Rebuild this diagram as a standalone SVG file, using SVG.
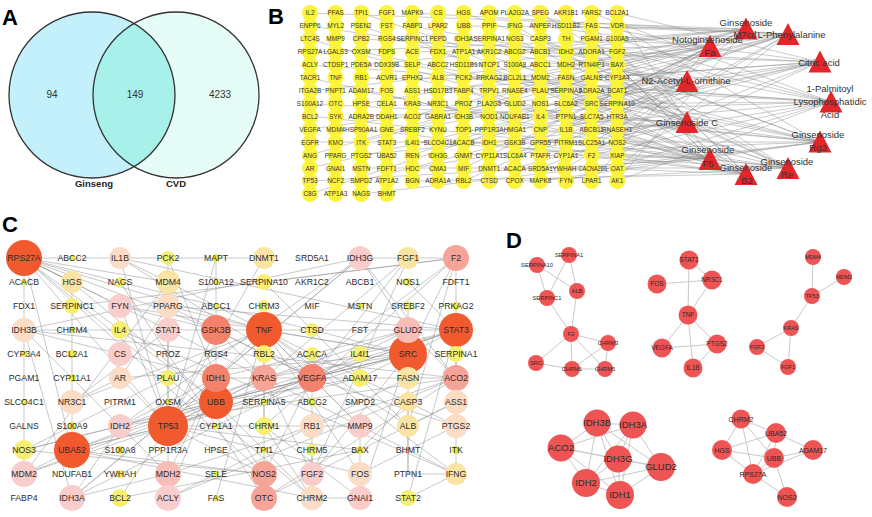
<svg xmlns="http://www.w3.org/2000/svg" xmlns:xlink="http://www.w3.org/1999/xlink" width="872" height="517" viewBox="0 0 872 517">
<style>
text{font-family:"Liberation Sans",Arial,Helvetica,sans-serif}
.pl{font-size:22px;font-weight:bold;fill:#000}
.vn{font-size:10px;fill:#333;text-anchor:middle}
.vl{font-size:9.5px;font-weight:bold;fill:#222;text-anchor:middle}
.bn circle{fill:#fbf43a}
.bn text{font-size:6.4px;fill:#333;text-anchor:middle}
.tl{font-size:9.5px;fill:#333;text-anchor:middle}
.cn text{font-size:8.7px;fill:#2b2b2b;text-anchor:middle}
.o circle{fill:#f15a2f}
.s1 circle{fill:#f3826c}
.s2 circle{fill:#f6a398}
.pk circle{fill:#f9cdcc}
.pk2 circle{fill:#f8bdb7}
.pc circle{fill:#fbdcc4}
.ly circle{fill:#fae4a4}
.y circle{fill:#f7ef72}
.t circle{fill:#efe84c}
.dn circle{fill:#ef5454}
.dn text{fill:#2b2b2b;text-anchor:middle}
.dA text{font-size:5.8px}
.dB text{font-size:6.5px}
.dC text{font-size:5.5px}
.dD text{font-size:9.5px}
.dE text{font-size:7px}
#b-edges{stroke:#8a8a8a;stroke-width:0.6;fill:none;opacity:0.75}
#c-edges{stroke:#8c8c8c;stroke-width:0.6;fill:none;opacity:0.8}
#d-edges{stroke:#c9c9c9;stroke-width:1;fill:none}
</style>
<defs>
<path id="tri" d="M0 -11L11.5 11L-11.5 11Z" fill="#e4262b"/>
</defs>
<rect width="872" height="517" fill="#fff"/>

<text class="pl" x="2" y="25">A</text>
<text class="pl" x="268" y="24">B</text>
<text class="pl" x="2" y="232">C</text>
<text class="pl" x="506" y="248">D</text>

<g id="venn">
<circle cx="92" cy="95" r="83" fill="#c4f0fb"/>
<circle cx="176" cy="95" r="83" fill="#e6fcf6"/>
<path d="M134 23.4A83 83 0 0 0 134 166.6A83 83 0 0 0 134 23.4Z" fill="#a8f0ea"/>
<circle cx="92" cy="95" r="83" fill="none" stroke="#333" stroke-width="1.3"/>
<circle cx="176" cy="95" r="83" fill="none" stroke="#333" stroke-width="1.3"/>
<text class="vn" x="52" y="97.5">94</text>
<text class="vn" x="135" y="97.5">149</text>
<text class="vn" x="220" y="97.5">4233</text>
<text class="vl" x="94" y="186.5">Ginseng</text>
<text class="vl" x="176" y="186.5">CVD</text>
</g>

<g id="connectors">
<path id="b-edges" d="M310 13L746 29M310 26L687 81M310 39L710 159M310 52L788 34M310 65L831 102M310 78L746 174M310 91L710 46M310 104L687 122M310 116L788 168M310 129L820 62M310 142L820 142M310 155L746 29M310 168L687 81M310 181L710 159M310 194L788 34
M361 13L687 122M361 26L788 168M361 39L820 62M361 52L820 142M361 65L746 29M361 78L687 81M361 91L710 159M361 104L788 34M361 116L831 102M361 129L746 174M361 142L710 46M361 155L687 122M361 168L788 168M361 181L820 62M361 194L820 142
M412 13L788 34M412 26L831 102M412 39L746 174M412 52L710 46M412 65L687 122M412 78L788 168M412 91L820 62M412 104L820 142M412 116L746 29M412 129L687 81M412 142L710 159M412 155L788 34M412 168L831 102M412 181L746 174
M464 13L820 142M464 26L746 29M464 39L687 81M464 52L710 159M464 65L788 34M464 78L831 102M464 91L746 174M464 104L710 46M464 116L687 122M464 129L788 168M464 142L820 62M464 155L820 142M464 168L746 29M464 181L687 81
M515 13L710 46M515 26L687 122M515 39L788 168M515 52L820 62M515 65L820 142M515 78L746 29M515 91L687 81M515 104L710 159M515 116L788 34M515 129L831 102M515 142L746 174M515 155L710 46M515 168L687 122M515 181L788 168
M540 13L788 168M540 26L820 62M540 39L820 142M540 52L746 29M540 65L687 81M540 78L710 159M540 91L788 34M540 104L831 102M540 116L746 174M540 129L710 46M540 142L687 122M540 155L788 168M540 168L820 62M540 181L820 142
M566 13L710 159M566 26L788 34M566 39L831 102M566 52L746 174M566 65L710 46M566 78L687 122M566 91L788 168M566 104L820 62M566 116L820 142M566 129L746 29M566 142L687 81M566 155L710 159M566 168L788 34M566 181L831 102
M592 13L831 102M592 26L746 174M592 39L710 46M592 52L687 122M592 65L788 168M592 78L820 62M592 91L820 142M592 104L746 29M592 116L687 81M592 129L710 159M592 142L788 34M592 155L831 102M592 168L746 174M592 181L710 46
M617 13L820 62M617 26L820 142M617 39L746 29M617 52L687 81M617 65L710 159M617 78L788 34M617 91L831 102M617 104L746 174M617 116L710 46M617 129L687 122M617 142L788 168M617 155L820 62M617 168L820 142M617 181L746 29
M617 13L710 159M617 26L788 34M617 39L831 102M617 52L746 174M617 65L710 46M617 78L687 122M617 91L788 168M617 104L820 62M617 116L820 142M617 129L746 29M617 142L687 81M617 155L710 159M617 168L788 34M617 181L831 102"/>
<path id="c-edges" d="M24 258L264 258M360 258L456 258M24 258L168 282M24 258L216 330M24 258L264 330M24 258L216 402M24 258L168 426M24 258L72 450M24 258L24 474M24 258L72 282M24 258L168 330M24 258L312 498M24 258L264 474M24 258L408 354M24 258L120 306
M72 282L216 402M72 282L72 450M120 258L264 330M120 258L456 330M120 258L168 426M120 258L312 378M168 258L216 378M168 258L168 474M216 258L168 426M216 258L216 330M264 258L168 426
M360 258L24 330M360 258L216 378M360 258L408 330M360 258L120 426M360 258L456 378M360 258L72 498M408 258L312 378M408 258L264 378M408 258L312 474
M456 258L408 354M456 258L408 426M456 258L264 402M456 258L456 354M456 258L264 426M456 258L264 282M456 258L72 306M168 282L24 474M168 282L168 426M264 282L408 426M408 282L456 330
M120 306L408 354M120 306L168 426M120 306L216 330M168 306L264 330M168 306L456 330M168 306L312 378M168 306L120 378M264 306L264 426M408 306L408 378
M24 330L456 330M24 330L216 378M24 330L120 426M24 330L72 498M24 330L456 378M120 330L456 474M168 330L72 402M168 330L456 474
M216 330L168 426M216 330L216 402M216 330L312 378M216 330L264 378M264 330L168 426M264 330L312 378M264 330L456 426M264 330L408 426M264 330L264 474M264 330L360 474M264 330L360 426M264 330L72 402M264 330L408 354M264 330L456 474
M456 330L408 354M456 330L168 426M456 330L312 378M456 330L264 378M456 330L456 426M456 330L216 402M456 330L408 498M456 330L456 474
M408 354L168 426M408 354L312 378M408 354L264 378M408 354L216 402M408 354L408 474M408 354L312 474M408 354L360 378M408 354L24 450
M408 330L216 378M408 330L456 378M408 330L120 426M408 330L72 498M216 378L456 378M216 378L120 426M216 378L72 498M216 378L168 474M216 378L168 498
M312 378L168 426M312 378L312 474M312 378L264 474M312 378L24 450M312 378L360 426M312 378L456 426M264 378L168 426M264 378L312 474M264 378L216 402M264 378L72 450
M456 378L168 474M456 378L120 426M456 378L264 498M456 378L456 402M216 402L72 450M216 402L168 426M216 402L264 474M216 402L312 498M216 402L360 378M216 402L24 474
M168 426L72 450M168 426L24 474M168 426L360 450M168 426L264 474M168 426L360 474M168 426L360 426M72 450L24 474M72 450L264 474M72 450L312 498M72 450L360 378
M24 450L264 474M24 450L264 330M120 426L168 474M120 426L72 498M168 474L72 498M168 474L168 498M264 498L456 402M264 498L120 282M360 426L360 474M456 426L360 474
M408 402L360 450M408 402L408 474M408 474L456 474M408 498L456 474M312 498L264 426M312 498L312 450M360 498L312 498M360 498L264 426M360 498L408 354
M120 498L168 426M120 498L360 450M216 498L264 330M168 498L408 378M168 498L456 378M120 378L168 426M120 378L72 402M120 378L408 354M456 402L408 426"/>
<path id="d-edges" d="M537 265L547 298M537 265L577 291M569 255L547 298M569 255L577 291M547 298L571 334M577 291L571 334M571 334L536 363M571 334L572 369M571 334L608 343M571 334L605 369M536 363L572 369M572 369L605 369M572 369L608 343M608 343L605 369
M689 260L712 280M689 260L688 315M657 284L712 280M712 280L688 315M688 315L662 348M688 315L717 344M688 315L693 368M662 348L717 344M717 344L693 368
M813 257L812 296M844 277L812 296M812 296L791 328M791 328L757 347M791 328L788 367M757 347L788 367
M597 423L633 425M597 423L561 448M597 423L618 459M597 423L661 467M597 423L586 483M597 423L620 495M633 425L561 448M633 425L618 459M633 425L661 467M633 425L586 483M633 425L620 495M561 448L618 459M561 448L661 467M561 448L586 483M561 448L620 495M618 459L661 467M618 459L586 483M618 459L620 495M661 467L586 483M661 467L620 495M586 483L620 495
M741 419L776 433M741 419L722 450M741 419L774 458M741 419L753 474M776 433L722 450M776 433L774 458M776 433L813 450M776 433L753 474M722 450L774 458M722 450L753 474M774 458L813 450M774 458L753 474M774 458L787 497M753 474L787 497M753 474L813 450"/>
</g>

<g id="b-targets" class="bn">
<g id="b-IL2" transform="translate(310 13)"><circle r="8"/><text y="2.3">IL2</text></g>
<g id="b-PFAS" transform="translate(335.6 13)"><circle r="8"/><text y="2.3">PFAS</text></g>
<g id="b-TPI1" transform="translate(361.2 13)"><circle r="8"/><text y="2.3">TPI1</text></g>
<g id="b-FGF1" transform="translate(386.8 13)"><circle r="8"/><text y="2.3">FGF1</text></g>
<g id="b-MAPK9" transform="translate(412.4 13)"><circle r="8"/><text y="2.3">MAPK9</text></g>
<g id="b-CS" transform="translate(438 13)"><circle r="8"/><text y="2.3">CS</text></g>
<g id="b-HGS" transform="translate(463.6 13)"><circle r="8"/><text y="2.3">HGS</text></g>
<g id="b-APOM" transform="translate(489.2 13)"><circle r="8"/><text y="2.3">APOM</text></g>
<g id="b-PLA2G2A" transform="translate(514.8 13)"><circle r="8"/><text y="2.3">PLA2G2A</text></g>
<g id="b-SPEG" transform="translate(540.4 13)"><circle r="8"/><text y="2.3">SPEG</text></g>
<g id="b-AKR1B1" transform="translate(566 13)"><circle r="8"/><text y="2.3">AKR1B1</text></g>
<g id="b-FARS2" transform="translate(591.6 13)"><circle r="8"/><text y="2.3">FARS2</text></g>
<g id="b-BCL2A1" transform="translate(617.2 13)"><circle r="8"/><text y="2.3">BCL2A1</text></g>
<g id="b-ENPP6" transform="translate(310 25.9)"><circle r="8"/><text y="2.3">ENPP6</text></g>
<g id="b-MYL2" transform="translate(335.6 25.9)"><circle r="8"/><text y="2.3">MYL2</text></g>
<g id="b-PSEN2" transform="translate(361.2 25.9)"><circle r="8"/><text y="2.3">PSEN2</text></g>
<g id="b-FST" transform="translate(386.8 25.9)"><circle r="8"/><text y="2.3">FST</text></g>
<g id="b-FABP3" transform="translate(412.4 25.9)"><circle r="8"/><text y="2.3">FABP3</text></g>
<g id="b-LPAR2" transform="translate(438 25.9)"><circle r="8"/><text y="2.3">LPAR2</text></g>
<g id="b-UBB" transform="translate(463.6 25.9)"><circle r="8"/><text y="2.3">UBB</text></g>
<g id="b-PPIF" transform="translate(489.2 25.9)"><circle r="8"/><text y="2.3">PPIF</text></g>
<g id="b-IFNG" transform="translate(514.8 25.9)"><circle r="8"/><text y="2.3">IFNG</text></g>
<g id="b-ANPEP" transform="translate(540.4 25.9)"><circle r="8"/><text y="2.3">ANPEP</text></g>
<g id="b-HSD11B2" transform="translate(566 25.9)"><circle r="8"/><text y="2.3">HSD11B2</text></g>
<g id="b-FAS" transform="translate(591.6 25.9)"><circle r="8"/><text y="2.3">FAS</text></g>
<g id="b-VDR" transform="translate(617.2 25.9)"><circle r="8"/><text y="2.3">VDR</text></g>
<g id="b-LTC4S" transform="translate(310 38.9)"><circle r="8"/><text y="2.3">LTC4S</text></g>
<g id="b-MMP9" transform="translate(335.6 38.9)"><circle r="8"/><text y="2.3">MMP9</text></g>
<g id="b-CPB2" transform="translate(361.2 38.9)"><circle r="8"/><text y="2.3">CPB2</text></g>
<g id="b-RGS4" transform="translate(386.8 38.9)"><circle r="8"/><text y="2.3">RGS4</text></g>
<g id="b-SERPINC1" transform="translate(412.4 38.9)"><circle r="8"/><text y="2.3">SERPINC1</text></g>
<g id="b-PEPD" transform="translate(438 38.9)"><circle r="8"/><text y="2.3">PEPD</text></g>
<g id="b-IDH3A" transform="translate(463.6 38.9)"><circle r="8"/><text y="2.3">IDH3A</text></g>
<g id="b-SERPINA1" transform="translate(489.2 38.9)"><circle r="8"/><text y="2.3">SERPINA1</text></g>
<g id="b-NOS3" transform="translate(514.8 38.9)"><circle r="8"/><text y="2.3">NOS3</text></g>
<g id="b-CASP3" transform="translate(540.4 38.9)"><circle r="8"/><text y="2.3">CASP3</text></g>
<g id="b-TH" transform="translate(566 38.9)"><circle r="8"/><text y="2.3">TH</text></g>
<g id="b-PGAM1" transform="translate(591.6 38.9)"><circle r="8"/><text y="2.3">PGAM1</text></g>
<g id="b-S100A9" transform="translate(617.2 38.9)"><circle r="8"/><text y="2.3">S100A9</text></g>
<g id="b-RPS27A" transform="translate(310 51.8)"><circle r="8"/><text y="2.3">RPS27A</text></g>
<g id="b-LGALS3" transform="translate(335.6 51.8)"><circle r="8"/><text y="2.3">LGALS3</text></g>
<g id="b-OXSM" transform="translate(361.2 51.8)"><circle r="8"/><text y="2.3">OXSM</text></g>
<g id="b-FDPS" transform="translate(386.8 51.8)"><circle r="8"/><text y="2.3">FDPS</text></g>
<g id="b-ACE" transform="translate(412.4 51.8)"><circle r="8"/><text y="2.3">ACE</text></g>
<g id="b-FDX1" transform="translate(438 51.8)"><circle r="8"/><text y="2.3">FDX1</text></g>
<g id="b-ATP1A1" transform="translate(463.6 51.8)"><circle r="8"/><text y="2.3">ATP1A1</text></g>
<g id="b-AKR1C2" transform="translate(489.2 51.8)"><circle r="8"/><text y="2.3">AKR1C2</text></g>
<g id="b-ABCG2" transform="translate(514.8 51.8)"><circle r="8"/><text y="2.3">ABCG2</text></g>
<g id="b-ABCB1" transform="translate(540.4 51.8)"><circle r="8"/><text y="2.3">ABCB1</text></g>
<g id="b-IDH2" transform="translate(566 51.8)"><circle r="8"/><text y="2.3">IDH2</text></g>
<g id="b-ADORA1" transform="translate(591.6 51.8)"><circle r="8"/><text y="2.3">ADORA1</text></g>
<g id="b-FGF2" transform="translate(617.2 51.8)"><circle r="8"/><text y="2.3">FGF2</text></g>
<g id="b-ACLY" transform="translate(310 64.7)"><circle r="8"/><text y="2.3">ACLY</text></g>
<g id="b-CTDSP1" transform="translate(335.6 64.7)"><circle r="8"/><text y="2.3">CTDSP1</text></g>
<g id="b-PDE5A" transform="translate(361.2 64.7)"><circle r="8"/><text y="2.3">PDE5A</text></g>
<g id="b-DDX39B" transform="translate(386.8 64.7)"><circle r="8"/><text y="2.3">DDX39B</text></g>
<g id="b-SELP" transform="translate(412.4 64.7)"><circle r="8"/><text y="2.3">SELP</text></g>
<g id="b-ABCC2" transform="translate(438 64.7)"><circle r="8"/><text y="2.3">ABCC2</text></g>
<g id="b-HSD11B1" transform="translate(463.6 64.7)"><circle r="8"/><text y="2.3">HSD11B1</text></g>
<g id="b-NTCP1" transform="translate(489.2 64.7)"><circle r="8"/><text y="2.3">NTCP1</text></g>
<g id="b-S100A8" transform="translate(514.8 64.7)"><circle r="8"/><text y="2.3">S100A8</text></g>
<g id="b-ABCC1" transform="translate(540.4 64.7)"><circle r="8"/><text y="2.3">ABCC1</text></g>
<g id="b-MDH2" transform="translate(566 64.7)"><circle r="8"/><text y="2.3">MDH2</text></g>
<g id="b-RTN4IP1" transform="translate(591.6 64.7)"><circle r="8"/><text y="2.3">RTN4IP1</text></g>
<g id="b-BAX" transform="translate(617.2 64.7)"><circle r="8"/><text y="2.3">BAX</text></g>
<g id="b-TACR1" transform="translate(310 77.7)"><circle r="8"/><text y="2.3">TACR1</text></g>
<g id="b-TNF" transform="translate(335.6 77.7)"><circle r="8"/><text y="2.3">TNF</text></g>
<g id="b-RB1" transform="translate(361.2 77.7)"><circle r="8"/><text y="2.3">RB1</text></g>
<g id="b-ACVR1" transform="translate(386.8 77.7)"><circle r="8"/><text y="2.3">ACVR1</text></g>
<g id="b-EPHX2" transform="translate(412.4 77.7)"><circle r="8"/><text y="2.3">EPHX2</text></g>
<g id="b-ALB" transform="translate(438 77.7)"><circle r="8"/><text y="2.3">ALB</text></g>
<g id="b-PCK2" transform="translate(463.6 77.7)"><circle r="8"/><text y="2.3">PCK2</text></g>
<g id="b-PRKAG2" transform="translate(489.2 77.7)"><circle r="8"/><text y="2.3">PRKAG2</text></g>
<g id="b-BCL2L1" transform="translate(514.8 77.7)"><circle r="8"/><text y="2.3">BCL2L1</text></g>
<g id="b-MDM2" transform="translate(540.4 77.7)"><circle r="8"/><text y="2.3">MDM2</text></g>
<g id="b-FASN" transform="translate(566 77.7)"><circle r="8"/><text y="2.3">FASN</text></g>
<g id="b-GALNS" transform="translate(591.6 77.7)"><circle r="8"/><text y="2.3">GALNS</text></g>
<g id="b-CYP3A4" transform="translate(617.2 77.7)"><circle r="8"/><text y="2.3">CYP3A4</text></g>
<g id="b-ITGA2B" transform="translate(310 90.6)"><circle r="8"/><text y="2.3">ITGA2B</text></g>
<g id="b-PNPT1" transform="translate(335.6 90.6)"><circle r="8"/><text y="2.3">PNPT1</text></g>
<g id="b-ADAM17" transform="translate(361.2 90.6)"><circle r="8"/><text y="2.3">ADAM17</text></g>
<g id="b-FOS" transform="translate(386.8 90.6)"><circle r="8"/><text y="2.3">FOS</text></g>
<g id="b-ASS1" transform="translate(412.4 90.6)"><circle r="8"/><text y="2.3">ASS1</text></g>
<g id="b-HSD17B3" transform="translate(438 90.6)"><circle r="8"/><text y="2.3">HSD17B3</text></g>
<g id="b-FABP4" transform="translate(463.6 90.6)"><circle r="8"/><text y="2.3">FABP4</text></g>
<g id="b-TRPV1" transform="translate(489.2 90.6)"><circle r="8"/><text y="2.3">TRPV1</text></g>
<g id="b-RNASE4" transform="translate(514.8 90.6)"><circle r="8"/><text y="2.3">RNASE4</text></g>
<g id="b-PLAU" transform="translate(540.4 90.6)"><circle r="8"/><text y="2.3">PLAU</text></g>
<g id="b-SERPINA5" transform="translate(566 90.6)"><circle r="8"/><text y="2.3">SERPINA5</text></g>
<g id="b-ADRA2A" transform="translate(591.6 90.6)"><circle r="8"/><text y="2.3">ADRA2A</text></g>
<g id="b-BCAT1" transform="translate(617.2 90.6)"><circle r="8"/><text y="2.3">BCAT1</text></g>
<g id="b-S100A12" transform="translate(310 103.5)"><circle r="8"/><text y="2.3">S100A12</text></g>
<g id="b-OTC" transform="translate(335.6 103.5)"><circle r="8"/><text y="2.3">OTC</text></g>
<g id="b-HPSE" transform="translate(361.2 103.5)"><circle r="8"/><text y="2.3">HPSE</text></g>
<g id="b-CELA1" transform="translate(386.8 103.5)"><circle r="8"/><text y="2.3">CELA1</text></g>
<g id="b-KRAS" transform="translate(412.4 103.5)"><circle r="8"/><text y="2.3">KRAS</text></g>
<g id="b-NR3C1" transform="translate(438 103.5)"><circle r="8"/><text y="2.3">NR3C1</text></g>
<g id="b-PROZ" transform="translate(463.6 103.5)"><circle r="8"/><text y="2.3">PROZ</text></g>
<g id="b-PLA2G5" transform="translate(489.2 103.5)"><circle r="8"/><text y="2.3">PLA2G5</text></g>
<g id="b-GLUD2" transform="translate(514.8 103.5)"><circle r="8"/><text y="2.3">GLUD2</text></g>
<g id="b-NOS1" transform="translate(540.4 103.5)"><circle r="8"/><text y="2.3">NOS1</text></g>
<g id="b-SLC6A2" transform="translate(566 103.5)"><circle r="8"/><text y="2.3">SLC6A2</text></g>
<g id="b-SRC" transform="translate(591.6 103.5)"><circle r="8"/><text y="2.3">SRC</text></g>
<g id="b-SERPINA10" transform="translate(617.2 103.5)"><circle r="8"/><text y="2.3">SERPINA10</text></g>
<g id="b-BCL2" transform="translate(310 116.4)"><circle r="8"/><text y="2.3">BCL2</text></g>
<g id="b-SYK" transform="translate(335.6 116.4)"><circle r="8"/><text y="2.3">SYK</text></g>
<g id="b-ADRA2B" transform="translate(361.2 116.4)"><circle r="8"/><text y="2.3">ADRA2B</text></g>
<g id="b-DDAH1" transform="translate(386.8 116.4)"><circle r="8"/><text y="2.3">DDAH1</text></g>
<g id="b-ACO2" transform="translate(412.4 116.4)"><circle r="8"/><text y="2.3">ACO2</text></g>
<g id="b-GABRA1" transform="translate(438 116.4)"><circle r="8"/><text y="2.3">GABRA1</text></g>
<g id="b-IDH3B" transform="translate(463.6 116.4)"><circle r="8"/><text y="2.3">IDH3B</text></g>
<g id="b-NOD1" transform="translate(489.2 116.4)"><circle r="8"/><text y="2.3">NOD1</text></g>
<g id="b-NDUFAB1" transform="translate(514.8 116.4)"><circle r="8"/><text y="2.3">NDUFAB1</text></g>
<g id="b-IL4" transform="translate(540.4 116.4)"><circle r="8"/><text y="2.3">IL4</text></g>
<g id="b-PTPN1" transform="translate(566 116.4)"><circle r="8"/><text y="2.3">PTPN1</text></g>
<g id="b-SLC7A5" transform="translate(591.6 116.4)"><circle r="8"/><text y="2.3">SLC7A5</text></g>
<g id="b-HTR3A" transform="translate(617.2 116.4)"><circle r="8"/><text y="2.3">HTR3A</text></g>
<g id="b-VEGFA" transform="translate(310 129.4)"><circle r="8"/><text y="2.3">VEGFA</text></g>
<g id="b-MDM4" transform="translate(335.6 129.4)"><circle r="8"/><text y="2.3">MDM4</text></g>
<g id="b-HSP90AA1" transform="translate(361.2 129.4)"><circle r="8"/><text y="2.3">HSP90AA1</text></g>
<g id="b-GNE" transform="translate(386.8 129.4)"><circle r="8"/><text y="2.3">GNE</text></g>
<g id="b-SREBF2" transform="translate(412.4 129.4)"><circle r="8"/><text y="2.3">SREBF2</text></g>
<g id="b-KYNU" transform="translate(438 129.4)"><circle r="8"/><text y="2.3">KYNU</text></g>
<g id="b-TOP1" transform="translate(463.6 129.4)"><circle r="8"/><text y="2.3">TOP1</text></g>
<g id="b-PPP1R3A" transform="translate(489.2 129.4)"><circle r="8"/><text y="2.3">PPP1R3A</text></g>
<g id="b-HMGA1" transform="translate(514.8 129.4)"><circle r="8"/><text y="2.3">HMGA1</text></g>
<g id="b-CNP" transform="translate(540.4 129.4)"><circle r="8"/><text y="2.3">CNP</text></g>
<g id="b-IL1B" transform="translate(566 129.4)"><circle r="8"/><text y="2.3">IL1B</text></g>
<g id="b-ABCB11" transform="translate(591.6 129.4)"><circle r="8"/><text y="2.3">ABCB11</text></g>
<g id="b-RNASEH1" transform="translate(617.2 129.4)"><circle r="8"/><text y="2.3">RNASEH1</text></g>
<g id="b-EGFR" transform="translate(310 142.3)"><circle r="8"/><text y="2.3">EGFR</text></g>
<g id="b-KMO" transform="translate(335.6 142.3)"><circle r="8"/><text y="2.3">KMO</text></g>
<g id="b-ITK" transform="translate(361.2 142.3)"><circle r="8"/><text y="2.3">ITK</text></g>
<g id="b-STAT3" transform="translate(386.8 142.3)"><circle r="8"/><text y="2.3">STAT3</text></g>
<g id="b-IL4I1" transform="translate(412.4 142.3)"><circle r="8"/><text y="2.3">IL4I1</text></g>
<g id="b-SLCO4C1" transform="translate(438 142.3)"><circle r="8"/><text y="2.3">SLCO4C1</text></g>
<g id="b-ACACB" transform="translate(463.6 142.3)"><circle r="8"/><text y="2.3">ACACB</text></g>
<g id="b-IDH1" transform="translate(489.2 142.3)"><circle r="8"/><text y="2.3">IDH1</text></g>
<g id="b-GSK3B" transform="translate(514.8 142.3)"><circle r="8"/><text y="2.3">GSK3B</text></g>
<g id="b-GPR55" transform="translate(540.4 142.3)"><circle r="8"/><text y="2.3">GPR55</text></g>
<g id="b-PITRM1" transform="translate(566 142.3)"><circle r="8"/><text y="2.3">PITRM1</text></g>
<g id="b-SLC25A1" transform="translate(591.6 142.3)"><circle r="8"/><text y="2.3">SLC25A1</text></g>
<g id="b-NOS2" transform="translate(617.2 142.3)"><circle r="8"/><text y="2.3">NOS2</text></g>
<g id="b-ANG" transform="translate(310 155.2)"><circle r="8"/><text y="2.3">ANG</text></g>
<g id="b-PPARG" transform="translate(335.6 155.2)"><circle r="8"/><text y="2.3">PPARG</text></g>
<g id="b-PTGS2" transform="translate(361.2 155.2)"><circle r="8"/><text y="2.3">PTGS2</text></g>
<g id="b-UBA52" transform="translate(386.8 155.2)"><circle r="8"/><text y="2.3">UBA52</text></g>
<g id="b-REN" transform="translate(412.4 155.2)"><circle r="8"/><text y="2.3">REN</text></g>
<g id="b-IDH3G" transform="translate(438 155.2)"><circle r="8"/><text y="2.3">IDH3G</text></g>
<g id="b-GNMT" transform="translate(463.6 155.2)"><circle r="8"/><text y="2.3">GNMT</text></g>
<g id="b-CYP11A1" transform="translate(489.2 155.2)"><circle r="8"/><text y="2.3">CYP11A1</text></g>
<g id="b-SLC6A4" transform="translate(514.8 155.2)"><circle r="8"/><text y="2.3">SLC6A4</text></g>
<g id="b-PTAFR" transform="translate(540.4 155.2)"><circle r="8"/><text y="2.3">PTAFR</text></g>
<g id="b-CYP1A1" transform="translate(566 155.2)"><circle r="8"/><text y="2.3">CYP1A1</text></g>
<g id="b-F2" transform="translate(591.6 155.2)"><circle r="8"/><text y="2.3">F2</text></g>
<g id="b-XIAP" transform="translate(617.2 155.2)"><circle r="8"/><text y="2.3">XIAP</text></g>
<g id="b-AR" transform="translate(310 168.2)"><circle r="8"/><text y="2.3">AR</text></g>
<g id="b-GNAI1" transform="translate(335.6 168.2)"><circle r="8"/><text y="2.3">GNAI1</text></g>
<g id="b-MSTN" transform="translate(361.2 168.2)"><circle r="8"/><text y="2.3">MSTN</text></g>
<g id="b-FDFT1" transform="translate(386.8 168.2)"><circle r="8"/><text y="2.3">FDFT1</text></g>
<g id="b-HDC" transform="translate(412.4 168.2)"><circle r="8"/><text y="2.3">HDC</text></g>
<g id="b-CMA1" transform="translate(438 168.2)"><circle r="8"/><text y="2.3">CMA1</text></g>
<g id="b-MIF" transform="translate(463.6 168.2)"><circle r="8"/><text y="2.3">MIF</text></g>
<g id="b-DNMT1" transform="translate(489.2 168.2)"><circle r="8"/><text y="2.3">DNMT1</text></g>
<g id="b-ACACA" transform="translate(514.8 168.2)"><circle r="8"/><text y="2.3">ACACA</text></g>
<g id="b-SRD5A1" transform="translate(540.4 168.2)"><circle r="8"/><text y="2.3">SRD5A1</text></g>
<g id="b-YWHAH" transform="translate(564.5 168.2)"><circle r="8"/><text y="2.3">YWHAH</text></g>
<g id="b-CACNA2D1" transform="translate(591.6 168.2)"><circle r="8"/><text x="1.5" y="2.3" textLength="29" lengthAdjust="spacingAndGlyphs">CACNA2D1</text></g>
<g id="b-OAT" transform="translate(617.2 168.2)"><circle r="8"/><text y="2.3">OAT</text></g>
<g id="b-TP53" transform="translate(310 181.1)"><circle r="8"/><text y="2.3">TP53</text></g>
<g id="b-NCF2" transform="translate(335.6 181.1)"><circle r="8"/><text y="2.3">NCF2</text></g>
<g id="b-SMPD2" transform="translate(361.2 181.1)"><circle r="8"/><text y="2.3">SMPD2</text></g>
<g id="b-ATP1A2" transform="translate(386.8 181.1)"><circle r="8"/><text y="2.3">ATP1A2</text></g>
<g id="b-BGN" transform="translate(412.4 181.1)"><circle r="8"/><text y="2.3">BGN</text></g>
<g id="b-ADRA1A" transform="translate(438 181.1)"><circle r="8"/><text y="2.3">ADRA1A</text></g>
<g id="b-RBL2" transform="translate(463.6 181.1)"><circle r="8"/><text y="2.3">RBL2</text></g>
<g id="b-CTSD" transform="translate(489.2 181.1)"><circle r="8"/><text y="2.3">CTSD</text></g>
<g id="b-CPOX" transform="translate(514.8 181.1)"><circle r="8"/><text y="2.3">CPOX</text></g>
<g id="b-MAPK8" transform="translate(540.4 181.1)"><circle r="8"/><text y="2.3">MAPK8</text></g>
<g id="b-FYN" transform="translate(566 181.1)"><circle r="8"/><text y="2.3">FYN</text></g>
<g id="b-LPAR1" transform="translate(591.6 181.1)"><circle r="8"/><text y="2.3">LPAR1</text></g>
<g id="b-AK1" transform="translate(617.2 181.1)"><circle r="8"/><text y="2.3">AK1</text></g>
<g id="b-C8G" transform="translate(310 194)"><circle r="8"/><text y="2.3">C8G</text></g>
<g id="b-ATP1A3" transform="translate(335.6 194)"><circle r="8"/><text y="2.3">ATP1A3</text></g>
<g id="b-NAGS" transform="translate(361.2 194)"><circle r="8"/><text y="2.3">NAGS</text></g>
<g id="b-BHMT" transform="translate(386.8 194)"><circle r="8"/><text y="2.3">BHMT</text></g>
</g>

<g id="b-compounds">
<g id="b-ginsenoside-m7cd"><use href="#tri" x="746" y="28.5"/><text class="tl" x="746" y="25.5">Ginsenoside</text><text class="tl" x="745" y="37.5">M7cd</text></g>
<g id="b-l-phenylalanine"><use href="#tri" x="788" y="34"/><text class="tl" x="757.5" y="37.5" style="text-anchor:start">L-Phenylalanine</text></g>
<g id="b-notoginsenoside-fa"><use href="#tri" x="710" y="46"/><text class="tl" x="707.5" y="42.7">Notoginsenoside</text><text class="tl" x="710" y="56">Fa</text></g>
<g id="b-citric-acid"><use href="#tri" x="820" y="61.5"/><text class="tl" x="819" y="65.5">Citric acid</text></g>
<g id="b-n2-acetyl-l-ornithine"><use href="#tri" x="687" y="81"/><text class="tl" x="686" y="83.5">N2-Acetyl-L-ornithine</text></g>
<g id="b-lysophosphatidic-acid"><use href="#tri" x="831" y="101.5"/><text class="tl" x="830" y="91.5">1-Palmitoyl</text><text class="tl" x="830" y="104.5">Lysophosphatidic</text><text class="tl" x="830" y="117.5">Acid</text></g>
<g id="b-ginsenoside-c"><use href="#tri" x="687" y="122"/><text class="tl" x="687" y="125.5">Ginsenoside C</text></g>
<g id="b-ginsenoside-rg3"><use href="#tri" x="820" y="141.5"/><text class="tl" x="818" y="137.5">Ginsenoside</text><text class="tl" x="818" y="150.5">Rg3</text></g>
<g id="b-ginsenoside-f5"><use href="#tri" x="710" y="159"/><text class="tl" x="708" y="152.5">Ginsenoside</text><text class="tl" x="708" y="166.5">F5</text></g>
<g id="b-ginsenoside-b2"><use href="#tri" x="746" y="174"/><text class="tl" x="746" y="170.5">Ginsenoside</text><text class="tl" x="747" y="183.5">B2</text></g>
<g id="b-ginsenoside-re"><use href="#tri" x="788" y="168"/><text class="tl" x="787" y="164.5">Ginsenoside</text><text class="tl" x="787" y="177.5">Re</text></g>
</g>

<g id="c-nodes" class="cn">
<g id="c-RPS27A" class="o" transform="translate(24 258)"><circle r="18"/><text y="3">RPS27A</text></g>
<g id="c-TNF" class="o" transform="translate(264 330)"><circle r="18"/><text y="3">TNF</text></g>
<g id="c-STAT3" class="o" transform="translate(456 330)"><circle r="17"/><text y="3">STAT3</text></g>
<g id="c-SRC" class="o" transform="translate(408 354)"><circle r="19"/><text y="3">SRC</text></g>
<g id="c-UBB" class="o" transform="translate(216 402)"><circle r="17"/><text y="3">UBB</text></g>
<g id="c-TP53" class="o" transform="translate(168 426)"><circle r="20"/><text y="3">TP53</text></g>
<g id="c-UBA52" class="o" transform="translate(72 450)"><circle r="18"/><text y="3">UBA52</text></g>
<g id="c-ABCC2" class="t" transform="translate(72 258)"><circle r="3"/><text y="3">ABCC2</text></g>
<g id="c-IL1B" class="pc" transform="translate(120 258)"><circle r="11"/><text y="3">IL1B</text></g>
<g id="c-PCK2" class="y" transform="translate(168 258)"><circle r="7"/><text y="3">PCK2</text></g>
<g id="c-MAPT" class="t" transform="translate(216 258)"><circle r="4"/><text y="3">MAPT</text></g>
<g id="c-DNMT1" class="ly" transform="translate(264 258)"><circle r="11"/><text y="3">DNMT1</text></g>
<g id="c-SRD5A1" transform="translate(312 258)"><text y="3">SRD5A1</text></g>
<g id="c-IDH3G" class="pk" transform="translate(360 258)"><circle r="12"/><text y="3">IDH3G</text></g>
<g id="c-FGF1" class="ly" transform="translate(408 258)"><circle r="11"/><text y="3">FGF1</text></g>
<g id="c-F2" class="s2" transform="translate(456 258)"><circle r="13"/><text y="3">F2</text></g>
<g id="c-ACACB" class="t" transform="translate(24 282)"><circle r="3"/><text y="3">ACACB</text></g>
<g id="c-HGS" class="ly" transform="translate(72 282)"><circle r="11"/><text y="3">HGS</text></g>
<g id="c-NAGS" class="y" transform="translate(120 282)"><circle r="5"/><text y="3">NAGS</text></g>
<g id="c-MDM4" class="ly" transform="translate(168 282)"><circle r="12"/><text y="3">MDM4</text></g>
<g id="c-S100A12" class="t" transform="translate(216 282)"><circle r="3"/><text y="3">S100A12</text></g>
<g id="c-SERPINA10" class="y" transform="translate(264 282)"><circle r="8"/><text y="3">SERPINA10</text></g>
<g id="c-AKR1C2" transform="translate(312 282)"><text y="3">AKR1C2</text></g>
<g id="c-ABCB1" transform="translate(360 282)"><text y="3">ABCB1</text></g>
<g id="c-NOS1" class="t" transform="translate(408 282)"><circle r="4"/><text y="3">NOS1</text></g>
<g id="c-FDFT1" transform="translate(456 282)"><text y="3">FDFT1</text></g>
<g id="c-FDX1" transform="translate(24 306)"><text y="3">FDX1</text></g>
<g id="c-SERPINC1" class="y" transform="translate(72 306)"><circle r="8"/><text y="3">SERPINC1</text></g>
<g id="c-FYN" class="pk" transform="translate(120 306)"><circle r="12"/><text y="3">FYN</text></g>
<g id="c-PPARG" class="pc" transform="translate(168 306)"><circle r="12"/><text y="3">PPARG</text></g>
<g id="c-ABCC1" class="t" transform="translate(216 306)"><circle r="3"/><text y="3">ABCC1</text></g>
<g id="c-CHRM3" class="y" transform="translate(264 306)"><circle r="6"/><text y="3">CHRM3</text></g>
<g id="c-MIF" transform="translate(312 306)"><text y="3">MIF</text></g>
<g id="c-MSTN" class="t" transform="translate(360 306)"><circle r="3"/><text y="3">MSTN</text></g>
<g id="c-SREBF2" class="y" transform="translate(408 306)"><circle r="5"/><text y="3">SREBF2</text></g>
<g id="c-PRKAG2" class="t" transform="translate(456 306)"><circle r="4"/><text y="3">PRKAG2</text></g>
<g id="c-IDH3B" class="pc" transform="translate(24 330)"><circle r="12"/><text y="3">IDH3B</text></g>
<g id="c-CHRM4" class="t" transform="translate(72 330)"><circle r="3"/><text y="3">CHRM4</text></g>
<g id="c-IL4" class="y" transform="translate(120 330)"><circle r="9"/><text y="3">IL4</text></g>
<g id="c-STAT1" class="pk" transform="translate(168 330)"><circle r="12"/><text y="3">STAT1</text></g>
<g id="c-GSK3B" class="s1" transform="translate(216 330)"><circle r="15"/><text y="3">GSK3B</text></g>
<g id="c-CTSD" class="y" transform="translate(312 330)"><circle r="7"/><text y="3">CTSD</text></g>
<g id="c-FST" transform="translate(360 330)"><text y="3">FST</text></g>
<g id="c-GLUD2" class="pk2" transform="translate(408 330)"><circle r="13"/><text y="3">GLUD2</text></g>
<g id="c-CYP3A4" class="t" transform="translate(24 354)"><circle r="3"/><text y="3">CYP3A4</text></g>
<g id="c-BCL2A1" class="t" transform="translate(72 354)"><circle r="4"/><text y="3">BCL2A1</text></g>
<g id="c-CS" class="pk" transform="translate(120 354)"><circle r="12"/><text y="3">CS</text></g>
<g id="c-PROZ" transform="translate(168 354)"><text y="3">PROZ</text></g>
<g id="c-RGS4" transform="translate(216 354)"><text y="3">RGS4</text></g>
<g id="c-RBL2" class="y" transform="translate(264 354)"><circle r="9"/><text y="3">RBL2</text></g>
<g id="c-ACACA" class="y" transform="translate(312 354)"><circle r="7"/><text y="3">ACACA</text></g>
<g id="c-IL4I1" class="y" transform="translate(360 354)"><circle r="8"/><text y="3">IL4I1</text></g>
<g id="c-SERPINA1" class="y" transform="translate(456 354)"><circle r="8"/><text y="3">SERPINA1</text></g>
<g id="c-PGAM1" transform="translate(24 378)"><text y="3">PGAM1</text></g>
<g id="c-CYP11A1" class="t" transform="translate(72 378)"><circle r="4"/><text y="3">CYP11A1</text></g>
<g id="c-AR" class="pc" transform="translate(120 378)"><circle r="11"/><text y="3">AR</text></g>
<g id="c-PLAU" class="y" transform="translate(168 378)"><circle r="8"/><text y="3">PLAU</text></g>
<g id="c-IDH1" class="s1" transform="translate(216 378)"><circle r="14"/><text y="3">IDH1</text></g>
<g id="c-KRAS" class="s2" transform="translate(264 378)"><circle r="13"/><text y="3">KRAS</text></g>
<g id="c-VEGFA" class="s1" transform="translate(312 378)"><circle r="14"/><text y="3">VEGFA</text></g>
<g id="c-ADAM17" class="y" transform="translate(360 378)"><circle r="9"/><text y="3">ADAM17</text></g>
<g id="c-FASN" class="ly" transform="translate(408 378)"><circle r="11"/><text y="3">FASN</text></g>
<g id="c-ACO2" class="s2" transform="translate(456 378)"><circle r="13"/><text y="3">ACO2</text></g>
<g id="c-SLCO4C1" class="t" transform="translate(24 402)"><circle r="3"/><text y="3">SLCO4C1</text></g>
<g id="c-NR3C1" class="pc" transform="translate(72 402)"><circle r="12"/><text y="3">NR3C1</text></g>
<g id="c-PITRM1" transform="translate(120 402)"><text y="3">PITRM1</text></g>
<g id="c-OXSM" class="t" transform="translate(168 402)"><circle r="3"/><text y="3">OXSM</text></g>
<g id="c-SERPINA5" class="t" transform="translate(264 402)"><circle r="3"/><text y="3">SERPINA5</text></g>
<g id="c-ABCG2" class="t" transform="translate(312 402)"><circle r="4"/><text y="3">ABCG2</text></g>
<g id="c-SMPD2" transform="translate(360 402)"><text y="3">SMPD2</text></g>
<g id="c-CASP3" class="ly" transform="translate(408 402)"><circle r="10"/><text y="3">CASP3</text></g>
<g id="c-ASS1" class="pc" transform="translate(456 402)"><circle r="12"/><text y="3">ASS1</text></g>
<g id="c-GALNS" transform="translate(24 426)"><text y="3">GALNS</text></g>
<g id="c-S100A9" class="t" transform="translate(72 426)"><circle r="4"/><text y="3">S100A9</text></g>
<g id="c-IDH2" class="pk" transform="translate(120 426)"><circle r="12"/><text y="3">IDH2</text></g>
<g id="c-CYP1A1" class="t" transform="translate(216 426)"><circle r="3"/><text y="3">CYP1A1</text></g>
<g id="c-CHRM1" class="y" transform="translate(264 426)"><circle r="9"/><text y="3">CHRM1</text></g>
<g id="c-RB1" class="pc" transform="translate(312 426)"><circle r="12"/><text y="3">RB1</text></g>
<g id="c-MMP9" class="pk" transform="translate(360 426)"><circle r="12"/><text y="3">MMP9</text></g>
<g id="c-ALB" class="ly" transform="translate(408 426)"><circle r="11"/><text y="3">ALB</text></g>
<g id="c-PTGS2" class="pc" transform="translate(456 426)"><circle r="12"/><text y="3">PTGS2</text></g>
<g id="c-NOS3" class="y" transform="translate(24 450)"><circle r="10"/><text y="3">NOS3</text></g>
<g id="c-S100A8" class="t" transform="translate(120 450)"><circle r="4"/><text y="3">S100A8</text></g>
<g id="c-PPP1R3A" transform="translate(168 450)"><text y="3">PPP1R3A</text></g>
<g id="c-HPSE" transform="translate(216 450)"><text y="3">HPSE</text></g>
<g id="c-TPI1" class="t" transform="translate(264 450)"><circle r="3"/><text y="3">TPI1</text></g>
<g id="c-CHRM5" class="y" transform="translate(312 450)"><circle r="6"/><text y="3">CHRM5</text></g>
<g id="c-BAX" class="t" transform="translate(360 450)"><circle r="4"/><text y="3">BAX</text></g>
<g id="c-BHMT" transform="translate(408 450)"><text y="3">BHMT</text></g>
<g id="c-ITK" class="t" transform="translate(456 450)"><circle r="4"/><text y="3">ITK</text></g>
<g id="c-MDM2" class="pk" transform="translate(24 474)"><circle r="13"/><text y="3">MDM2</text></g>
<g id="c-NDUFAB1" transform="translate(72 474)"><text y="3">NDUFAB1</text></g>
<g id="c-YWHAH" class="t" transform="translate(120 474)"><circle r="4"/><text y="3">YWHAH</text></g>
<g id="c-MDH2" class="pk2" transform="translate(168 474)"><circle r="13"/><text y="3">MDH2</text></g>
<g id="c-SELE" class="t" transform="translate(216 474)"><circle r="3"/><text y="3">SELE</text></g>
<g id="c-NOS2" class="s2" transform="translate(264 474)"><circle r="13"/><text y="3">NOS2</text></g>
<g id="c-FGF2" class="pk" transform="translate(312 474)"><circle r="12"/><text y="3">FGF2</text></g>
<g id="c-FOS" class="pc" transform="translate(360 474)"><circle r="12"/><text y="3">FOS</text></g>
<g id="c-PTPN1" transform="translate(408 474)"><text y="3">PTPN1</text></g>
<g id="c-IFNG" class="ly" transform="translate(456 474)"><circle r="11"/><text y="3">IFNG</text></g>
<g id="c-FABP4" transform="translate(24 498)"><text y="3">FABP4</text></g>
<g id="c-IDH3A" class="pk" transform="translate(72 498)"><circle r="13"/><text y="3">IDH3A</text></g>
<g id="c-BCL2" class="y" transform="translate(120 498)"><circle r="9"/><text y="3">BCL2</text></g>
<g id="c-ACLY" class="pk" transform="translate(168 498)"><circle r="13"/><text y="3">ACLY</text></g>
<g id="c-FAS" class="t" transform="translate(216 498)"><circle r="3"/><text y="3">FAS</text></g>
<g id="c-OTC" class="s2" transform="translate(264 498)"><circle r="13"/><text y="3">OTC</text></g>
<g id="c-CHRM2" class="pc" transform="translate(312 498)"><circle r="12"/><text y="3">CHRM2</text></g>
<g id="c-GNAI1" class="pk" transform="translate(360 498)"><circle r="12"/><text y="3">GNAI1</text></g>
<g id="c-STAT2" class="y" transform="translate(408 498)"><circle r="8"/><text y="3">STAT2</text></g>
</g>

<g id="d-nodes" class="dn">
<g class="dA">
<g id="d-SERPINA10" transform="translate(537 265)"><circle r="8"/><text y="2">SERPINA10</text></g>
<g id="d-SERPINA1" transform="translate(569 255)"><circle r="8"/><text y="2">SERPINA1</text></g>
<g id="d-ALB" transform="translate(577 291)"><circle r="8"/><text y="2">ALB</text></g>
<g id="d-SERPINC1" transform="translate(547 298)"><circle r="8"/><text y="2">SERPINC1</text></g>
<g id="d-F2" transform="translate(571 334)"><circle r="8"/><text y="2">F2</text></g>
<g id="d-CHRM3" transform="translate(608 343)"><circle r="8"/><text y="2">CHRM3</text></g>
<g id="d-SRC" transform="translate(536 363)"><circle r="8"/><text y="2">SRC</text></g>
<g id="d-CHRM1" transform="translate(572 369)"><circle r="8"/><text y="2">CHRM1</text></g>
<g id="d-CHRM5" transform="translate(605 369)"><circle r="8"/><text y="2">CHRM5</text></g>
</g>
<g class="dB">
<g id="d-STAT1" transform="translate(689 260)"><circle r="9.5"/><text y="2.3">STAT1</text></g>
<g id="d-NR3C1" transform="translate(712 280)"><circle r="9.5"/><text y="2.3">NR3C1</text></g>
<g id="d-FOS" transform="translate(657 284)"><circle r="9.5"/><text y="2.3">FOS</text></g>
<g id="d-TNF" transform="translate(688 315)"><circle r="9.5"/><text y="2.3">TNF</text></g>
<g id="d-VEGFA" transform="translate(662 348)"><circle r="9.5"/><text y="2.3">VEGFA</text></g>
<g id="d-PTGS2" transform="translate(717 344)"><circle r="9.5"/><text y="2.3">PTGS2</text></g>
<g id="d-IL1B" transform="translate(693 368)"><circle r="9.5"/><text y="2.3">IL1B</text></g>
</g>
<g class="dC">
<g id="d-MDM4" transform="translate(813 257)"><circle r="8"/><text y="2">MDM4</text></g>
<g id="d-MDM2" transform="translate(844 277)"><circle r="8"/><text y="2">MDM2</text></g>
<g id="d-TP53" transform="translate(812 296)"><circle r="8"/><text y="2">TP53</text></g>
<g id="d-KRAS" transform="translate(791 328)"><circle r="8"/><text y="2">KRAS</text></g>
<g id="d-FGF2" transform="translate(757 347)"><circle r="8"/><text y="2">FGF2</text></g>
<g id="d-FGF1" transform="translate(788 367)"><circle r="8"/><text y="2">FGF1</text></g>
</g>
<g class="dD">
<g id="d-IDH3B" transform="translate(597 423)"><circle r="13.5"/><text y="3.4">IDH3B</text></g>
<g id="d-IDH3A" transform="translate(633 425)"><circle r="13.5"/><text y="3.4">IDH3A</text></g>
<g id="d-ACO2" transform="translate(561 448)"><circle r="13.5"/><text y="3.4">ACO2</text></g>
<g id="d-IDH3G" transform="translate(618 459)"><circle r="13.5"/><text y="3.4">IDH3G</text></g>
<g id="d-GLUD2" transform="translate(661 467)"><circle r="14"/><text y="3.4">GLUD2</text></g>
<g id="d-IDH2" transform="translate(586 483)"><circle r="14"/><text y="3.4">IDH2</text></g>
<g id="d-IDH1" transform="translate(620 495)"><circle r="14"/><text y="3.4">IDH1</text></g>
</g>
<g class="dE">
<g id="d-CHRM2" transform="translate(741 419)"><circle r="9.5"/><text y="2.5">CHRM2</text></g>
<g id="d-UBA52" transform="translate(776 433)"><circle r="10"/><text y="2.5">UBA52</text></g>
<g id="d-HGS" transform="translate(722 450)"><circle r="10"/><text y="2.5">HGS</text></g>
<g id="d-ADAM17" transform="translate(813 450)"><circle r="10"/><text y="2.5">ADAM17</text></g>
<g id="d-UBB" transform="translate(774 458)"><circle r="10"/><text y="2.5">UBB</text></g>
<g id="d-RPS27A" transform="translate(753 474)"><circle r="10"/><text y="2.5">RPS27A</text></g>
<g id="d-NOS2" transform="translate(787 497)"><circle r="10"/><text y="2.5">NOS2</text></g>
</g>
</g>
</svg>
